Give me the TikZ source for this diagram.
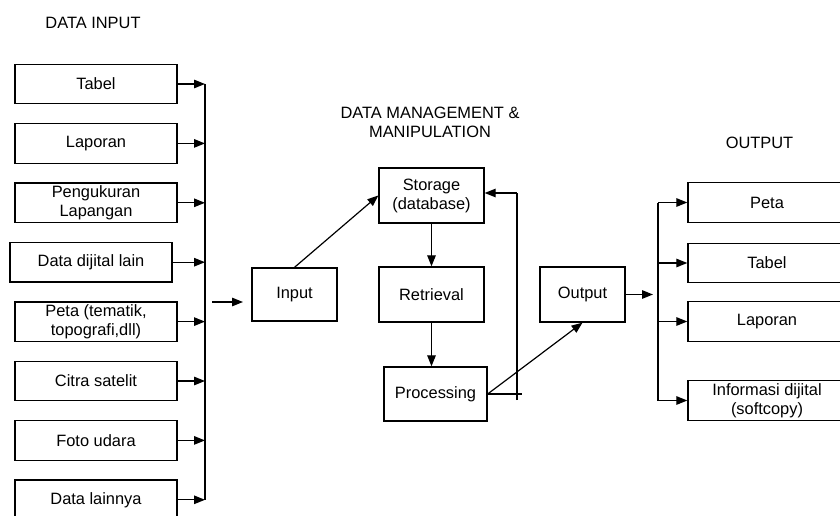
\documentclass[tikz,border=0pt]{standalone}
\usepackage{fontspec}
\setmainfont{Liberation Sans}
\usetikzlibrary{arrows.meta}
\begin{document}
\begin{tikzpicture}[x=1pt,y=-1pt,
  every node/.style={font=\fontsize{16.4}{19}\selectfont, align=center, inner sep=0pt},
  box/.style={draw, line width=1.3pt, minimum height=39.5pt},
  inbox/.style={box, minimum width=162pt},
  outbox/.style={box, minimum width=158pt},
  wire/.style={line width=1.2pt},
  arr/.style={wire, -{Triangle[length=11pt,width=8.5pt]}},
  title/.style={}
]
\useasboundingbox (0,0) rectangle (840,516);
\clip (0,0) rectangle (840,516);

% section titles
\node[title] (tin) at (93,23) {DATA INPUT};
\node[title] (tman) at (430,122) {DATA MANAGEMENT \&\\MANIPULATION};
\node[title] (tout) at (759.5,143) {OUTPUT};

% input sources
\node[inbox] (tabel)   at (96,84)    {Tabel};
\node[inbox] (laporan) at (96,143.4) {Laporan};
\node[inbox] (ukur)    at (96,202.8) {Pengukuran\\Lapangan};
\node[inbox] (dijital) at (91,262.2) {Data dijital lain};
\node[inbox] (peta)    at (96,321.6) {Peta (tematik,\\topografi,dll)};
\node[inbox] (citra)   at (96,381)   {Citra satelit};
\node[inbox] (foto)    at (96,440.4) {Foto udara};
\node[inbox] (lain)    at (96,499.8) {Data lainnya};

% input bus
\coordinate (busTop) at (205,84);
\coordinate (busBot) at (205,500);
\draw[wire] (busTop) -- (busBot);
\foreach \n in {tabel,laporan,ukur,dijital,peta,citra,foto,lain}
  \draw[arr] (\n.east) -- (\n.east -| busTop);

% management boxes
\node[box, minimum width=85pt, minimum height=53pt] (input) at (294.5,294.5) {Input};
\node[box, minimum width=105pt, minimum height=55pt] (storage) at (431.5,195.5) {Storage\\(database)};
\node[box, minimum width=105pt, minimum height=55pt] (retrieval) at (431.5,294.5) {Retrieval};
\node[box, minimum width=103pt, minimum height=54pt] (proc) at (435.5,394) {Processing};
\node[box, minimum width=85pt, minimum height=55pt] (output) at (582.5,294.5) {Output};

\coordinate (inS) at (212,302);
\coordinate (inE) at (243,302);
\draw[arr] (inS) -- (inE);

\draw[arr] (input.north) -- (storage.west);
\draw[arr] (storage.south) -- (retrieval.north);
\draw[arr] (retrieval.south) -- (retrieval.south |- proc.north);

% feedback from processing to storage
\coordinate (fbTop) at (517,193);
\coordinate (fbBot) at (517,400);
\coordinate (fbTick) at (522,394);
\draw[wire] (proc.east) -- (fbTick);
\draw[wire] (fbBot) -- (fbTop);
\draw[arr] (fbTop) -- (fbTop -| storage.east);

\draw[arr] (proc.east) -- (output.south);

% output bus
\coordinate (obus) at (653,294.5);
\coordinate (obTop) at (658,203);
\coordinate (obBot) at (658,401);
\draw[arr] (output.east) -- (obus);
\draw[wire] (obTop) -- (obBot);

\node[outbox] (opeta)  at (767,202.5) {Peta};
\node[outbox] (otabel) at (767,263)   {Tabel};
\node[outbox] (olap)   at (767,321.5) {Laporan};
\node[outbox] (oinfo)  at (767,400.5) {Informasi dijital\\(softcopy)};
\foreach \n in {opeta,otabel,olap,oinfo}
  \draw[arr] (\n.west -| obTop) -- (\n.west);
\end{tikzpicture}
\end{document}
